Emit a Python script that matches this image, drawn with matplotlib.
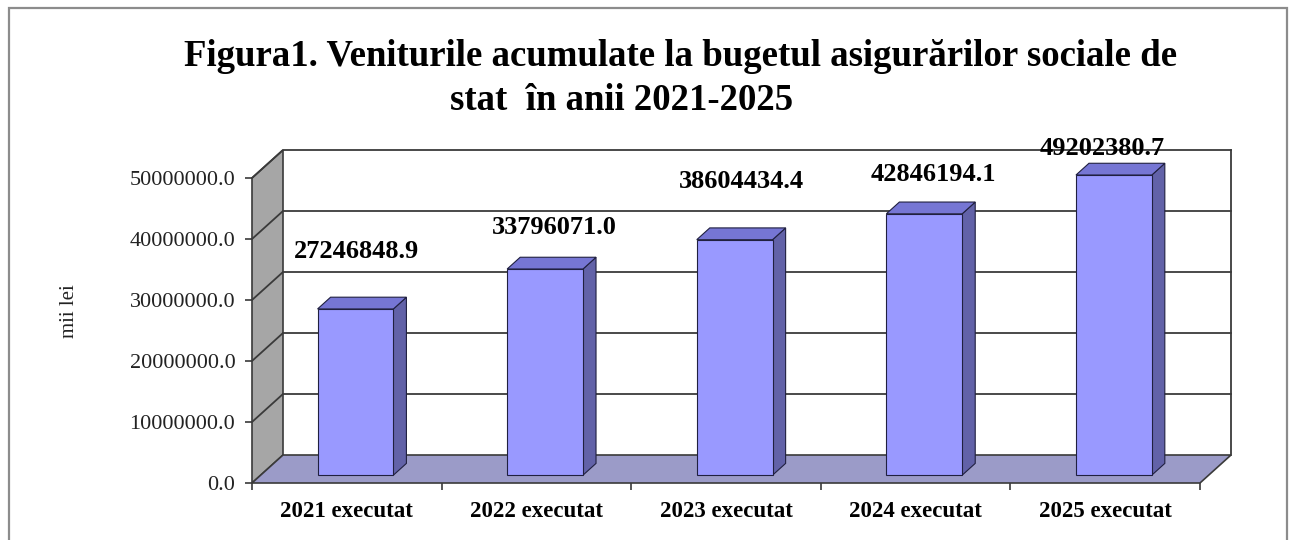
import matplotlib
matplotlib.use("Agg")
import matplotlib.pyplot as plt
from matplotlib.patches import Polygon, Rectangle
from matplotlib.ticker import FuncFormatter

# data
categories = ["2021 executat", "2022 executat", "2023 executat", "2024 executat", "2025 executat"]
values = [27246848.9, 33796071.0, 38604434.4, 42846194.1, 49202380.7]
y_ticks = [0, 10000000, 20000000, 30000000, 40000000, 50000000]

TITLE_1 = "Figura1. Veniturile acumulate la bugetul asigurărilor sociale de"
TITLE_2 = "stat  în anii 2021-2025"

# layout tweaks for the value labels (pixels, relative to bar top centre)
label_dx = [1, 9, 7, 9, -12]
label_dy = [57, 42, 58, 39, 27]

W, H = 1292, 540
YMAX = 50000000

# 3d look: depth of the walls in data units
DXW = 31 / 189.6
DYW = 28 * YMAX / 305
F0, F1 = 0.28, 0.70   # bar front / back as fraction of wall depth
BAR_W = 0.40

FRONT = "#9999FF"
TOP = "#7676D4"
SIDE = "#6262A8"
FLOOR = "#9B9BC8"
WALL = "#A6A6A6"
GRID = "#3a3a3a"

plt.rcParams["font.family"] = ["Liberation Serif", "DejaVu Serif"]

fig = plt.figure(figsize=(W / 100, H / 100), dpi=100)
fig.patches.append(Rectangle((9 / W, -0.05), (1287 - 9) / W, 1.05 - 8 / H,
                             transform=fig.transFigure, fill=False,
                             edgecolor="#8c8c8c", linewidth=1.6))

ax = fig.add_axes([252 / W, 57 / H, 948 / W, 305 / H])
n = len(categories)
ax.set_xlim(0, n)
ax.set_ylim(0, YMAX)
for s in ax.spines.values():
    s.set_visible(False)
ax.patch.set_visible(False)

# back wall
ax.add_patch(Polygon([(DXW, DYW), (n + DXW, DYW), (n + DXW, YMAX + DYW), (DXW, YMAX + DYW)],
                     closed=True, facecolor="white", edgecolor="none", clip_on=False, zorder=1))
ax.plot([n + DXW, n + DXW], [DYW, YMAX + DYW], color=GRID, lw=1.3, clip_on=False, zorder=2)

# left wall
ax.add_patch(Polygon([(0, 0), (DXW, DYW), (DXW, YMAX + DYW), (0, YMAX)],
                     closed=True, facecolor=WALL, edgecolor=GRID, lw=1.2, clip_on=False, zorder=2))

# floor
ax.add_patch(Polygon([(0, 0), (n, 0), (n + DXW, DYW), (DXW, DYW)],
                     closed=True, facecolor=FLOOR, edgecolor=GRID, lw=1.2, clip_on=False, zorder=2))

# gridlines on the walls
for v in y_ticks[1:]:
    ax.plot([0, DXW, n + DXW], [v, v + DYW, v + DYW], color=GRID, lw=1.3,
            clip_on=False, zorder=3)

# bars
for i, v in enumerate(values):
    x0 = i + 0.5 - BAR_W / 2 + F0 * DXW
    x1 = x0 + BAR_W
    y0 = F0 * DYW
    y1 = v + F0 * DYW
    ddx = (F1 - F0) * DXW
    ddy = (F1 - F0) * DYW
    ax.add_patch(Polygon([(x1, y0), (x1 + ddx, y0 + ddy), (x1 + ddx, y1 + ddy), (x1, y1)],
                         closed=True, facecolor=SIDE, edgecolor="#202040", lw=0.8,
                         clip_on=False, zorder=4))
    ax.add_patch(Polygon([(x0, y1), (x1, y1), (x1 + ddx, y1 + ddy), (x0 + ddx, y1 + ddy)],
                         closed=True, facecolor=TOP, edgecolor="#202040", lw=0.8,
                         clip_on=False, zorder=4))
    ax.add_patch(Rectangle((x0, y0), BAR_W, v, facecolor=FRONT, edgecolor="#202040",
                           lw=0.8, clip_on=False, zorder=5))
    ax.annotate(f"{v:.1f}", xy=((x0 + x1) / 2, y1),
                xytext=(label_dx[i] * 0.72, label_dy[i] * 0.72), textcoords="offset points",
                ha="center", va="center", fontsize=19, fontweight="bold",
                annotation_clip=False, zorder=6)

# axes ticks
ax.set_yticks(y_ticks)
ax.yaxis.set_major_formatter(FuncFormatter(lambda v, p: f"{v:.1f}"))
ax.tick_params(axis="y", direction="out", length=5, width=1.2, color=GRID,
               labelsize=16, pad=7, labelcolor="#222222")
ax.set_xticks(range(n + 1))
ax.set_xticklabels([])
ax.set_xticks([i + 0.5 for i in range(n)], minor=True)
ax.set_xticklabels(categories, minor=True, fontsize=16.5, fontweight="bold")
ax.tick_params(axis="x", which="major", direction="out", length=5, width=1.2, color=GRID)
ax.tick_params(axis="x", which="minor", length=0, pad=13)

fig.text(70 / W, 1 - 311 / H, "mii lei", rotation=90, ha="center", va="center",
         fontsize=15, color="#222222")

fig.text(681 / W, 1 - 56 / H, TITLE_1, ha="center", va="center",
         fontsize=26.5, fontweight="bold")
fig.text(622 / W, 1 - 101 / H, TITLE_2, ha="center", va="center",
         fontsize=26.5, fontweight="bold")

fig.savefig("out.png", dpi=100)
